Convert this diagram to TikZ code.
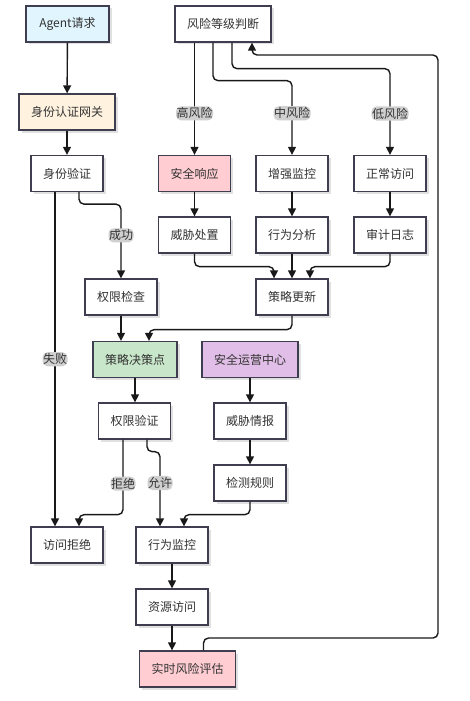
\documentclass[tikz,border=0pt]{standalone}
\usepackage{fontspec}
\setmainfont{Noto Sans CJK SC}
\usetikzlibrary{arrows.meta,shadows}
\definecolor{boxline}{HTML}{3E3E50}
\definecolor{txt}{HTML}{333333}
\definecolor{lblbg}{HTML}{D0D0D0}
\definecolor{cblue}{HTML}{E1F5FE}
\definecolor{corange}{HTML}{FFF3E0}
\definecolor{cred}{HTML}{FFCDD2}
\definecolor{cgreen}{HTML}{C8E6C9}
\definecolor{cpurple}{HTML}{E1BEE7}
\begin{document}
\begin{tikzpicture}[x=1pt,y=-1pt,
  box/.style={draw=boxline, line width=1.3pt, fill=white, minimum width=72pt, minimum height=36pt,
    inner sep=0pt, font=\fontsize{12}{14}\selectfont, text=txt,
    drop shadow={shadow xshift=2.5pt,shadow yshift=-2.5pt,fill=black,opacity=0.12}},
  arr/.style={draw=black!90, line width=1.4pt, rounded corners=5pt, -{Triangle[width=8pt,length=8pt]}},
  lbl/.style={fill=lblbg, inner xsep=0.5pt, inner ysep=1.5pt, font=\fontsize{12}{14}\selectfont, text=txt}]
\useasboundingbox (0,0) rectangle (470,701);
% nodes
\node[box, minimum width=83pt, fill=cblue] (ag) at (67.5,24) {Agent请求};
\node[box, minimum width=96pt] (fx) at (223,24) {风险等级判断};
\node[box, minimum width=96pt, fill=corange] (rz) at (67,112) {身份认证网关};
\node[box] (yz) at (67,173.5) {身份验证};
\node[box, fill=cred] (aq) at (194.5,173.5) {安全响应};
\node[box] (zq) at (292,173.5) {增强监控};
\node[box] (zc) at (390,173.5) {正常访问};
\node[box] (wc) at (194.5,235) {威胁处置};
\node[box] (xf) at (292,235) {行为分析};
\node[box] (sj) at (390,235) {审计日志};
\node[box] (qx) at (121,297) {权限检查};
\node[box] (cg) at (292,297) {策略更新};
\node[box, minimum width=84pt, fill=cgreen] (jc) at (135,359.5) {策略决策点};
\node[box, minimum width=96pt, fill=cpurple] (yy) at (250,359.5) {安全运营中心};
\node[box] (qy) at (134.5,421) {权限验证};
\node[box] (wq) at (250,421) {威胁情报};
\node[box] (gz) at (250,483) {检测规则};
\node[box] (jj) at (67,545) {访问拒绝};
\node[box] (jk) at (172,545) {行为监控};
\node[box] (zy) at (172,607) {资源访问};
\node[box, minimum width=96pt, fill=cred] (ss) at (187.5,669) {实时风险评估};
% connectors
\draw[arr] (ag) -- (rz);
\draw[arr] (rz) -- (yz);
\draw[arr] ([xshift=-12pt]yz.south) -- ([xshift=-12pt]jj.north) node[lbl,midway] {失败};
\draw[arr] ([xshift=12pt]yz.south) -- ++(0,12) -| (qx.north) node[lbl,pos=0.71] {成功};
\draw[arr] (qx.south) -- (qx.south |- jc.north);
\draw[arr] (cg.south) -- ++(0,14) -| ([xshift=14pt]jc.north);
\draw[arr] (aq.north |- fx.south) -- (aq.north) node[lbl,pos=0.63] {高风险};
\draw[arr] ([xshift=-10pt]fx.south) -- ++(0,38) -| (zq.north) node[lbl,pos=0.72] {中风险};
\draw[arr] ([xshift=9pt]fx.south) -- ++(0,26) -| (zc.north) node[lbl,pos=0.76] {低风险};
\draw[arr] (aq) -- (wc);
\draw[arr] (zq) -- (xf);
\draw[arr] (zc) -- (sj);
\draw[arr] (wc.south) -- ++(0,13) -| ([xshift=-18pt]cg.north);
\draw[arr] (xf) -- (cg);
\draw[arr] (sj.south) -- ++(0,13) -| ([xshift=18pt]cg.north);
\draw[arr] (jc.south) -- (jc.south |- qy.north);
\draw[arr] (yy) -- (wq);
\draw[arr] (wq) -- (gz);
\draw[arr] ([xshift=-11.5pt]qy.south) -- ++(0,75) node[lbl,pos=0.587] {拒绝} -| ([xshift=12pt]jj.north);
\draw[arr] ([xshift=12.5pt]qy.south) -- ++(0,12) -| ([xshift=-12pt]jk.north) node[lbl,pos=0.71] {允许};
\draw[arr] (gz.south) -- ++(0,13) -| ([xshift=12pt]jk.north);
\draw[arr] (jk) -- (zy);
\draw[arr] (zy.south) -- (zy.south |- ss.north);
\coordinate (loopB) at (438,638);
\coordinate (loopT) at (438,55);
\draw[arr] ([xshift=16pt]ss.north) |- (loopB) -- (loopT) -| ([xshift=29pt]fx.south);
\end{tikzpicture}
\end{document}
